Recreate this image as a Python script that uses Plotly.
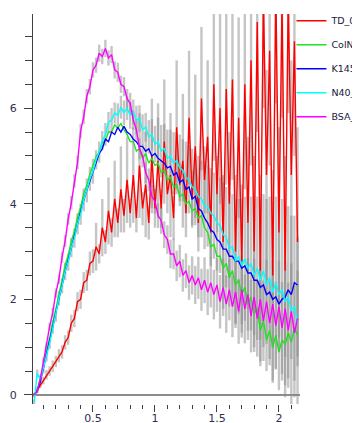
import plotly.graph_objects as go

X = [0.025,0.05,0.075,0.1,0.125,0.15,0.175,0.2,0.225,0.25,
     0.275,0.3,0.325,0.35,0.375,0.4,0.425,0.45,0.475,0.5,
     0.525,0.55,0.575,0.6,0.625,0.65,0.675,0.7,0.725,0.75,
     0.775,0.8,0.825,0.85,0.875,0.9,0.925,0.95,0.975,1.0,
     1.025,1.05,1.075,1.1,1.125,1.15,1.175,1.2,1.225,1.25,
     1.275,1.3,1.325,1.35,1.375,1.4,1.425,1.45,1.475,1.5,
     1.525,1.55,1.575,1.6,1.625,1.65,1.675,1.7,1.725,1.75,
     1.775,1.8,1.825,1.85,1.875,1.9,1.925,1.95,1.975,2.0,
     2.025,2.05,2.075,2.1,2.125,2.15]

TD = [0.0,0.1,0.22,0.3,0.42,0.5,0.6,0.7,0.82,0.9,
      1.1,1.2,1.5,1.6,1.95,2.0,2.35,2.4,2.75,2.8,
      3.1,2.95,3.5,3.2,3.85,3.4,4.1,3.6,4.3,3.75,
      4.5,3.8,4.6,3.7,4.8,3.9,4.4,3.6,5.0,3.9,
      4.9,3.9,5.3,4.2,4.6,3.7,5.6,4.4,4.9,3.8,
      5.8,4.1,5.2,3.6,6.2,4.5,5.4,3.4,6.5,4.2,
      6.0,3.2,6.4,4.0,6.6,3.0,5.8,2.8,6.5,3.6,
      7.0,3.0,7.8,2.6,8.3,4.6,7.2,2.5,8.5,3.4,
      8.2,2.6,8.3,4.6,7.4,3.2]

COLN = [0.0,0.1,0.36,0.58,0.92,1.18,1.52,1.78,2.12,2.38,
        2.72,2.92,3.22,3.42,3.72,3.92,4.22,4.38,4.62,4.78,
        4.98,5.08,5.28,5.32,5.5,5.5,5.65,5.58,5.68,5.55,
        5.45,5.3,5.3,5.1,5.15,4.95,5.05,4.85,4.95,4.8,
        4.85,4.65,4.7,4.5,4.55,4.35,4.4,4.15,4.2,4.0,
        4.05,3.85,3.9,3.7,3.75,3.5,3.4,3.1,3.15,2.9,
        2.9,2.65,2.75,2.45,2.6,2.3,2.4,2.1,2.25,1.9,
        2.05,1.7,1.8,1.35,1.55,1.15,1.35,1.0,1.25,0.9,
        1.15,1.05,1.3,1.1,1.4,1.25]

K145 = [0.0,0.08,0.28,0.55,0.82,1.12,1.42,1.72,2.02,2.32,
        2.58,2.82,3.08,3.32,3.58,3.82,4.08,4.28,4.48,4.68,
        4.85,5.05,5.15,5.35,5.3,5.5,5.45,5.6,5.5,5.62,
        5.5,5.45,5.35,5.3,5.2,5.2,5.1,5.15,5.0,5.05,
        4.95,4.9,4.85,4.75,4.78,4.6,4.65,4.45,4.5,4.3,
        4.35,4.1,4.15,3.9,3.85,3.7,3.6,3.45,3.4,3.25,
        3.2,3.05,3.05,2.9,2.9,2.8,2.8,2.65,2.7,2.55,
        2.55,2.4,2.4,2.25,2.3,2.1,2.15,2.0,2.05,1.9,
        2.0,2.05,2.2,2.1,2.35,2.3]

N40 = [-0.15,0.45,0.32,0.55,0.82,1.08,1.42,1.68,2.02,2.28,
       2.58,2.78,3.08,3.28,3.58,3.78,4.08,4.28,4.52,4.68,
       4.92,5.08,5.32,5.45,5.7,5.75,5.9,5.85,6.02,5.9,
       6.0,5.85,5.92,5.75,5.78,5.55,5.6,5.4,5.45,5.25,
       5.3,5.1,5.15,4.95,5.0,4.85,4.9,4.75,4.7,4.55,
       4.5,4.35,4.3,4.15,4.1,3.95,3.95,3.8,3.75,3.6,
       3.55,3.35,3.3,3.05,3.1,2.8,2.9,2.7,2.85,2.65,
       2.75,2.5,2.65,2.4,2.6,2.3,2.45,2.15,2.35,2.1,
       2.2,1.95,2.05,1.75,1.85,1.5]

BSA = [0.0,0.08,0.33,0.72,1.02,1.43,1.72,2.13,2.42,2.88,
       3.22,3.68,4.02,4.48,4.86,5.52,5.82,6.25,6.45,6.8,
       6.9,7.15,7.08,7.25,7.05,7.12,6.8,6.75,6.5,6.45,
       6.2,6.1,5.75,5.55,5.15,5.0,4.65,4.5,4.15,4.05,
       3.75,3.65,3.35,3.25,2.95,2.95,2.7,2.8,2.5,2.6,
       2.35,2.5,2.3,2.45,2.2,2.4,2.15,2.35,2.1,2.3,
       1.95,2.25,1.9,2.2,1.85,2.15,1.75,2.2,1.8,2.1,
       1.65,2.05,1.6,2.0,1.55,1.95,1.5,1.9,1.45,1.85,
       1.4,1.8,1.35,1.75,1.3,1.6]

TD_ERR = [0.05,0.06,0.08,0.08,0.1,0.1,0.12,0.12,0.14,0.14,
          0.15,0.15,0.18,0.18,0.2,0.2,0.22,0.22,0.25,0.25,
          0.5,0.2,0.6,0.25,0.7,0.3,0.8,0.3,0.9,0.35,
          0.9,0.3,1.0,0.3,1.1,0.35,1.1,0.35,1.2,0.4,
          1.2,0.4,1.3,0.4,1.3,0.45,1.4,0.45,1.4,0.5,
          1.4,0.6,1.5,0.6,1.5,0.7,1.6,0.7,1.6,0.8,
          2.0,1.4,2.0,1.5,2.1,1.6,2.1,1.6,2.2,1.8,
          2.2,2.0,2.3,2.0,2.3,2.2,2.4,2.2,2.4,2.2,
          2.4,2.4,2.4,2.4,2.4,2.4]

N40_ERR = [0.05,0.08,0.1,0.1,0.12,0.12,0.14,0.15,0.15,0.16,
           0.18,0.18,0.2,0.2,0.22,0.22,0.24,0.25,0.25,0.26,
           0.2,0.22,0.2,0.24,0.22,0.25,0.22,0.25,0.24,0.26,
           0.25,0.28,0.26,0.3,0.28,0.32,0.3,0.35,0.32,0.38,
           0.5,0.55,0.52,0.6,0.55,0.65,0.6,0.7,0.65,0.75,
           0.7,0.8,0.75,0.85,0.8,0.9,0.85,0.95,0.9,1.0,
           1.0,1.1,1.05,1.2,1.1,1.3,1.2,1.4,1.3,1.5,
           1.4,1.6,1.5,1.7,1.6,1.8,1.7,1.9,1.8,2.0,
           1.9,2.0,1.9,2.0,1.9,1.8]

BSA_ERR = [0.04,0.05,0.06,0.06,0.08,0.08,0.1,0.1,0.1,0.12,
           0.12,0.12,0.14,0.14,0.14,0.15,0.15,0.15,0.16,0.16,
           0.16,0.18,0.16,0.18,0.16,0.18,0.18,0.2,0.18,0.2,
           0.2,0.22,0.2,0.22,0.22,0.24,0.22,0.24,0.24,0.26,
           0.26,0.28,0.28,0.3,0.3,0.32,0.32,0.34,0.34,0.36,
           0.36,0.4,0.4,0.44,0.44,0.48,0.48,0.52,0.52,0.56,
           0.56,0.6,0.6,0.64,0.64,0.68,0.68,0.72,0.72,0.76,
           0.76,0.8,0.8,0.84,0.84,0.88,0.88,0.92,0.92,0.96,
           0.96,1.0,1.0,1.0,1.0,1.0]

NAMES = ["TD_02", "ColN_02", "K145_02", "N40_02", "BSA_02"]
SERIES = [TD, COLN, K145, N40, BSA]
COLORS = ["#ff0000", "#22e022", "#0000ff", "#00ffff", "#ff00ff"]

fig = go.Figure()

# gray error bars drawn behind all lines
for y, err in [(TD, TD_ERR), (N40, N40_ERR), (BSA, BSA_ERR)]:
    fig.add_trace(go.Scatter(
        x=X, y=y, mode="lines",
        line=dict(color="rgba(0,0,0,0)", width=1),
        error_y=dict(type="data", array=err, color="rgba(140,140,140,0.5)",
                     thickness=2.4, width=0),
        showlegend=False, hoverinfo="skip"))

for name, y, c in zip(NAMES, SERIES, COLORS):
    fig.add_trace(go.Scatter(x=X, y=y, mode="lines", name=name,
                             legendgroup=name,
                             line=dict(color=c, width=1.4)))

tickfont = dict(family="DejaVu Sans", size=11, color="#303050")

# the page body adds an 8px offset, so the figure is 8px smaller
fig.update_layout(
    width=352, height=415,
    margin=dict(l=25, r=60, t=6, b=19, autoexpand=False),
    paper_bgcolor="white", plot_bgcolor="white",
    showlegend=True,
    legend=dict(x=0.968, xanchor="left", y=1.02, yanchor="top",
                font=dict(family="DejaVu Sans", size=9.5, color="#202040"),
                tracegroupgap=5, bgcolor="rgba(0,0,0,0)"),
    xaxis=dict(range=[0.016, 2.17], showgrid=False, zeroline=False,
               showline=False, ticks="outside", ticklen=7, tickwidth=1,
               tickcolor="#404040", dtick=0.5, tick0=0, tickfont=tickfont,
               ticklabelstandoff=-3,
               minor=dict(dtick=0.1, ticks="outside", ticklen=4,
                          tickcolor="#404040")),
    yaxis=dict(range=[-0.19, 7.97], showgrid=False, zeroline=True,
               zerolinecolor="#8c8c8c", zerolinewidth=2,
               showline=True, linecolor="#404040", linewidth=1,
               ticks="outside", ticklen=8, tickwidth=1, tickcolor="#404040",
               dtick=2, tick0=0, tickfont=tickfont, ticklabelstandoff=5,
               minor=dict(dtick=0.5, ticks="outside", ticklen=7,
                          tickcolor="#404040")),
)

fig.write_html("out.html")
